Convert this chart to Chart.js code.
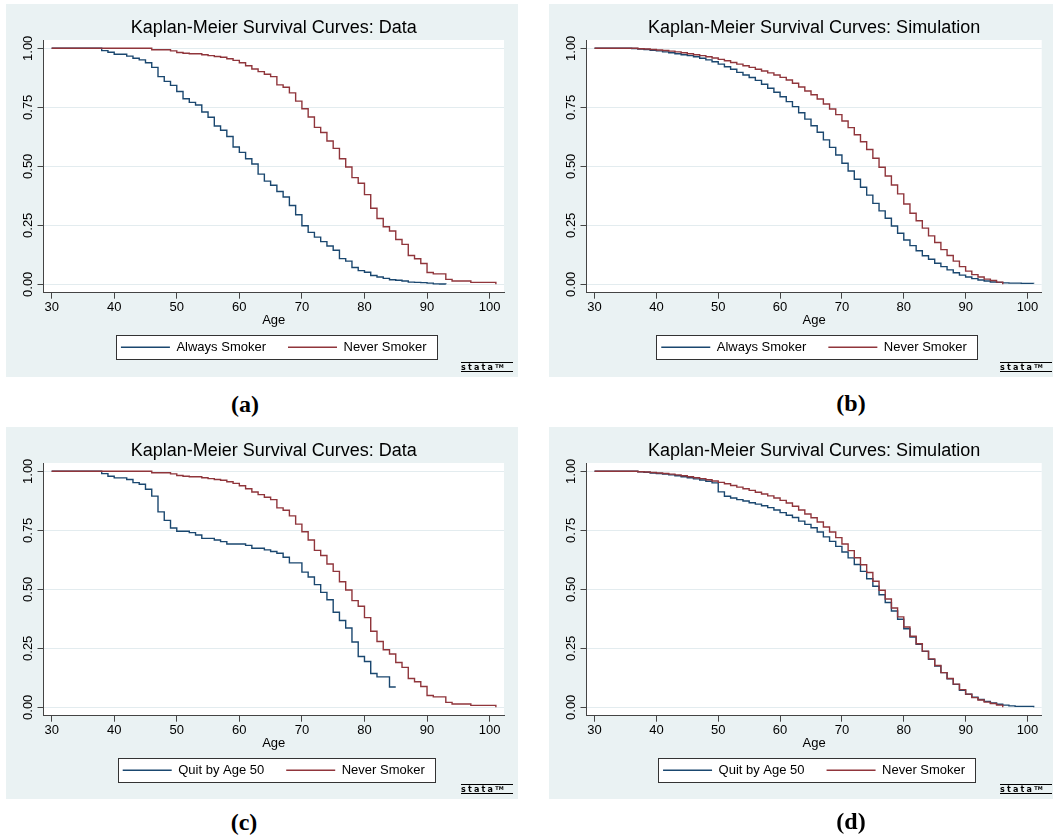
<!DOCTYPE html>
<html>
<head>
<meta charset="utf-8">
<title>Kaplan-Meier Survival Curves</title>
<script src="https://cdn.jsdelivr.net/npm/chart.js@4.4.1/dist/chart.umd.min.js"></script>
<style>
  html, body { margin: 0; padding: 0; background: #fff; }
  body { position: relative; width: 1058px; height: 837px; overflow: hidden; }
  .panel { position: absolute; background: #eaf2f3; }
  .panel canvas { display: block; }
  .stata {
    position: absolute; width: 52px; height: 8px; line-height: 8px;
    border-top: 1.5px solid #000; border-bottom: 1.5px solid #000;
    font: bold 8px "DejaVu Sans", sans-serif; letter-spacing: 2.2px; color: #000;
    text-align: left; overflow: hidden;
  }
  .stata sup { font-size: 5px; letter-spacing: 0; vertical-align: 2px; }
  .tag {
    position: absolute; transform: translate(-50%, -50%);
    font: bold 24px "Liberation Serif", "Times New Roman", serif; color: #000;
  }
</style>
</head>
<body>
  <div class="panel" style="left:6px;top:4px;width:512px;height:373px">
    <canvas id="chartA" width="512" height="373"></canvas>
    <div class="stata" style="left:455px;top:358px">stata<sup>TM</sup></div>
  </div>
  <div class="panel" style="left:549px;top:4px;width:504px;height:373px">
    <canvas id="chartB" width="504" height="373"></canvas>
    <div class="stata" style="left:451px;top:358px">stata<sup>TM</sup></div>
  </div>
  <div class="panel" style="left:6px;top:427px;width:512px;height:372px">
    <canvas id="chartC" width="512" height="372"></canvas>
    <div class="stata" style="left:455px;top:357px">stata<sup>TM</sup></div>
  </div>
  <div class="panel" style="left:549px;top:427px;width:504px;height:372px">
    <canvas id="chartD" width="504" height="372"></canvas>
    <div class="stata" style="left:451px;top:357px">stata<sup>TM</sup></div>
  </div>
  <div class="tag" style="left:245px;top:404px">(a)</div>
  <div class="tag" style="left:851px;top:403px">(b)</div>
  <div class="tag" style="left:244px;top:822px">(c)</div>
  <div class="tag" style="left:851px;top:821px">(d)</div>

<script>
  // ages (one KM step per year of age)
  const ages = [30, 31, 32, 33, 34, 35, 36, 37, 38, 39, 40, 41, 42, 43, 44, 45, 46, 47, 48, 49,
    50, 51, 52, 53, 54, 55, 56, 57, 58, 59, 60, 61, 62, 63, 64, 65, 66, 67, 68, 69,
    70, 71, 72, 73, 74, 75, 76, 77, 78, 79, 80, 81, 82, 83, 84, 85, 86, 87, 88, 89,
    90, 91, 92, 93, 94, 95, 96, 97, 98, 99, 100, 101];
  const xTicks = [30, 40, 50, 60, 70, 80, 90, 100];
  const yTicks = [0, 0.25, 0.5, 0.75, 1];

  // data panels (a) and (c)
  const neverData = [1, 1, 1, 1, 1, 1, 1, 1, 1, 1, 1, 1, 1, 1, 1, 1,
    .994, .994, .994, .989, .982, .979, .977, .977, .973, .969, .965, .962, .956, .949,
    .939, .926, .912, .901, .890, .880, .845, .835, .811, .776, .744, .709, .665, .643,
    .607, .576, .532, .497, .452, .428, .380, .322, .279, .244, .226, .190, .169, .122,
    .108, .088, .050, .044, .044, .021, .014, .014, .014, .008, .008, .008, .008, 0];
  const alwaysData = [1, 1, 1, 1, 1, 1, 1, 1,
    .990, .983, .975, .975, .967, .958, .951, .939, .919, .880, .860, .843, .817, .786,
    .771, .760, .730, .708, .671, .653, .626, .582, .559, .532, .510, .467, .437, .420,
    .393, .370, .334, .295, .248, .220, .200, .181, .162, .144, .109, .098, .071, .058,
    .051, .037, .031, .025, .019, .017, .014, .009, .008, .007, .005, .002, .001, 0];
  const quitData = [1, 1, 1, 1, 1, 1, 1, 1,
    .990, .979, .972, .972, .965, .952, .945, .924, .895, .828, .792, .760, .746, .746,
    .740, .730, .716, .716, .709, .702, .692, .692, .692, .686, .674, .674, .667, .660,
    .653, .636, .612, .612, .573, .552, .520, .487, .456, .403, .368, .336, .277, .215,
    .194, .143, .129, .129, .086, .086];

  // simulation panels (b) and (d)
  const neverSim = [1, 1, 1, 1, 1, 1, 1,
    .998, .997, .995, .993, .991, .988, .985, .981, .977, .973, .969, .964, .959, .953,
    .947, .940, .933, .926, .919, .911, .904, .896, .887, .877, .866, .852, .836, .819,
    .803, .785, .764, .743, .719, .692, .664, .634, .604, .571, .534, .496, .459, .421,
    .383, .340, .301, .269, .238, .205, .177, .147, .122, .098, .075, .056, .041, .031,
    .022, .016, .009, 0];
  const alwaysSim = [1, 1, 1, 1, 1, 1,
    .999, .997, .995, .992, .989, .985, .981, .977, .973, .969, .964, .958, .951, .943,
    .933, .922, .911, .898, .887, .876, .864, .848, .831, .814, .795, .774, .753, .727,
    .700, .672, .644, .612, .580, .548, .513, .480, .445, .411, .378, .343, .311, .280,
    .247, .216, .188, .164, .142, .121, .106, .089, .075, .061, .049, .039, .031, .024,
    .018, .014, .010, .008, .006, .005, .005, .004, .004, .003];
  const quitSim = [1, 1, 1, 1, 1, 1, 1,
    .998, .996, .993, .991, .988, .985, .981, .977, .973, .968, .963, .958, .951, .913,
    .894, .887, .880, .874, .867, .861, .854, .846, .836, .825, .814, .804, .789, .775,
    .761, .743, .722, .703, .682, .658, .633, .605, .576, .545, .513, .477, .444, .408,
    .373, .333, .298, .267, .237, .203, .175, .147, .121, .097, .072, .055, .043, .033,
    .025, .018, .013, .009, .006, .004, .004, .004, 0];

  const NAVY = "#1a476f";
  const MAROON = "#90353b";
  const FONT = "'Liberation Sans', Arial, sans-serif";

  Chart.defaults.font.family = FONT;
  Chart.defaults.color = "#000";

  // white plot region + framed legend, Stata style
  const stataFrame = {
    id: "stataFrame",
    beforeDraw(chart) {
      const { ctx, chartArea: a } = chart;
      ctx.save();
      ctx.fillStyle = "#fff";
      ctx.fillRect(a.left, a.top, a.right - a.left, a.bottom - a.top);
      const boxes = chart.legend && chart.legend.legendHitBoxes;
      if (boxes && boxes.length) {
        const first = boxes[0];
        const last = boxes[boxes.length - 1];
        const cy = first.top + first.height / 2;
        const x0 = Math.round(first.left - 5) + 0.5;
        const x1 = Math.round(last.left + last.width + 10) + 0.5;
        const y0 = Math.round(cy - 12) + 0.5;
        const y1 = Math.round(cy + 12) + 0.5;
        ctx.fillRect(x0, y0, x1 - x0, y1 - y0);
        ctx.strokeStyle = "#333";
        ctx.lineWidth = 1;
        ctx.strokeRect(x0, y0, x1 - x0, y1 - y0);
      }
      ctx.restore();
    }
  };

  function series(values) {
    return values.map((v, i) => ({ x: ages[i], y: v }));
  }

  function makePanel(canvasId, title, blueLabel, blueValues, redValues, rightPad) {
    const canvas = document.getElementById(canvasId);
    const bottomPad = canvas.height - 288.7 - 26.1 - 45;
    return new Chart(canvas, {
      type: "line",
      data: {
        datasets: [
          {
            label: blueLabel,
            data: series(blueValues),
            borderColor: NAVY,
            backgroundColor: NAVY,
            borderWidth: 1.4,
            stepped: true,
            pointRadius: 0,
            fill: false,
            order: 1
          },
          {
            label: "Never Smoker",
            data: series(redValues),
            borderColor: MAROON,
            backgroundColor: MAROON,
            borderWidth: 1.4,
            stepped: true,
            pointRadius: 0,
            fill: false,
            order: 0
          }
        ]
      },
      options: {
        responsive: false,
        maintainAspectRatio: false,
        animation: false,
        events: [],
        layout: { padding: { left: 0, right: rightPad, top: 0, bottom: bottomPad } },
        scales: {
          x: {
            type: "linear",
            min: 28.7,
            max: 102.3,
            afterBuildTicks: (s) => { s.ticks = xTicks.map((v) => ({ value: v })); },
            afterFit: (s) => { s.height = 26.1; },
            ticks: { font: { size: 13 }, color: "#000", padding: 1, minRotation: 0, maxRotation: 0 },
            grid: { drawOnChartArea: false, drawTicks: true, tickLength: 6, tickColor: "#444", color: "#444" },
            border: { display: true, color: "#444", width: 1 },
            title: { display: true, text: "Age", font: { size: 13 }, color: "#000", padding: { top: 0, bottom: -9.7 } }
          },
          y: {
            type: "linear",
            min: -0.0356,
            max: 1.0352,
            afterBuildTicks: (s) => { s.ticks = yTicks.map((v) => ({ value: v })); },
            afterFit: (s) => { s.width = 37.5; },
            ticks: {
              font: { size: 13 },
              color: "#000",
              padding: -3.65,
              minRotation: 90,
              maxRotation: 90,
              crossAlign: "center",
              callback: (v) => Number(v).toFixed(2)
            },
            grid: { color: "#e3ecef", lineWidth: 1, tickLength: 6, tickColor: "#444" },
            border: { display: true, color: "#444", width: 1 }
          }
        },
        plugins: {
          title: {
            display: true,
            text: title,
            fullSize: false,
            font: { size: 18, weight: "normal" },
            color: "#000",
            padding: { top: 13.2, bottom: 1.2 }
          },
          legend: {
            display: true,
            position: "bottom",
            fullSize: false,
            labels: {
              usePointStyle: true,
              pointStyle: "line",
              pointStyleWidth: 49,
              font: { size: 13 },
              color: "#000",
              padding: 22,
              sort: (a, b) => a.datasetIndex - b.datasetIndex
            }
          },
          tooltip: { enabled: false }
        }
      },
      plugins: [stataFrame]
    });
  }

  makePanel("chartA", "Kaplan-Meier Survival Curves: Data", "Always Smoker", alwaysData, neverData, 14);
  makePanel("chartB", "Kaplan-Meier Survival Curves: Simulation", "Always Smoker", alwaysSim, neverSim, 11.3);
  makePanel("chartC", "Kaplan-Meier Survival Curves: Data", "Quit by Age 50", quitData, neverData, 14);
  makePanel("chartD", "Kaplan-Meier Survival Curves: Simulation", "Quit by Age 50", quitSim, neverSim, 11.3);
</script>
</body>
</html>
